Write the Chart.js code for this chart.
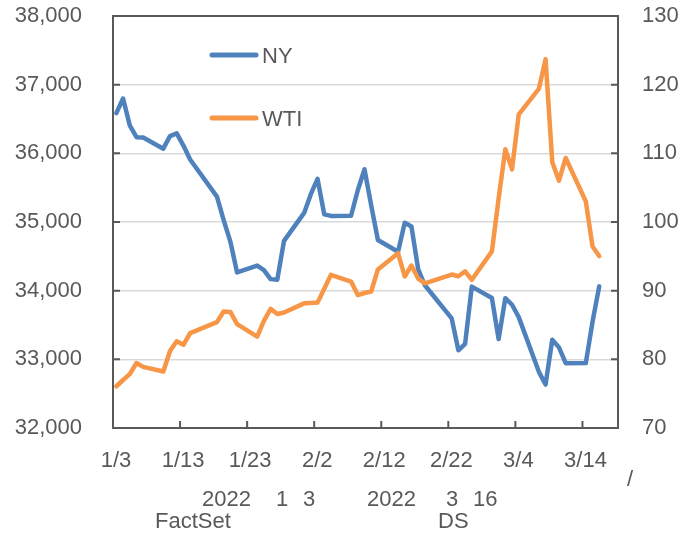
<!DOCTYPE html>
<html>
<head>
<meta charset="utf-8">
<script src="https://cdn.jsdelivr.net/npm/chart.js@4.4.0/dist/chart.umd.min.js"></script>
<style>
  body { margin: 0; background: #fff; }
  canvas { display: block; }
</style>
</head>
<body>
<canvas id="chart" width="682" height="538"></canvas>
<script>
// Trading days (2022) and closes
const dates = ['1/3', '1/4', '1/5', '1/6', '1/7', '1/10', '1/11', '1/12', '1/13', '1/14',
  '1/18', '1/19', '1/20', '1/21', '1/24', '1/25', '1/26', '1/27', '1/28', '1/31',
  '2/1', '2/2', '2/3', '2/4', '2/7', '2/8', '2/9', '2/10', '2/11', '2/14',
  '2/15', '2/16', '2/17', '2/18', '2/22', '2/23', '2/24', '2/25', '2/28', '3/1',
  '3/2', '3/3', '3/4', '3/7', '3/8', '3/9', '3/10', '3/11', '3/14', '3/15', '3/16'];

const nyValues = [36585, 36799, 36407, 36236, 36231, 36068, 36252, 36290, 36113, 35911,
  35369, 35029, 34715, 34265, 34365, 34298, 34168, 34160, 34725, 35132,
  35405, 35629, 35111, 35089, 35091, 35463, 35768, 35242, 34738, 34566,
  34989, 34935, 34313, 34079, 33597, 33132, 33224, 34059, 33893, 33295,
  33891, 33795, 33615, 32818, 32633, 33286, 33174, 32944, 32946, 33545, 34063];

const wtiValues = [76.08, 76.99, 77.85, 79.46, 78.90, 78.23, 81.22, 82.64, 82.12, 83.82,
  85.43, 86.96, 86.90, 85.14, 83.31, 85.60, 87.35, 86.61, 86.82, 88.15,
  88.20, 88.26, 90.27, 92.31, 91.32, 89.36, 89.66, 89.88, 93.10, 95.46,
  92.07, 93.66, 91.76, 91.07, 92.35, 92.10, 92.81, 91.59, 95.72, 103.41,
  110.60, 107.67, 115.68, 119.40, 123.70, 108.70, 106.02, 109.33, 103.01, 96.44, 95.04];

const xTickDays = [0, 10, 20, 30, 40, 50, 60, 70];
const leftTicks = [32000, 33000, 34000, 35000, 36000, 37000, 38000];
const rightTicks = [70, 80, 90, 100, 110, 120, 130];

const notes = [
  { text: '2022', x: 202, y: 500 }, { text: '1', x: 276, y: 500 }, { text: '3', x: 303, y: 500 },
  { text: '2022', x: 367, y: 500 }, { text: '3', x: 446, y: 500 }, { text: '16', x: 473, y: 500 },
  { text: 'FactSet', x: 155, y: 522 }, { text: 'DS', x: 438, y: 522 },
  { text: '/', x: 627, y: 480 }
];

const textColor = '#595959';
const axisColor = '#595959';
const font = { family: 'Liberation Sans, Arial, sans-serif', size: 22 };

const start = new Date(2022, 0, 3);
function dayOffset(label) {
  const [m, d] = label.split('/').map(Number);
  return Math.round((new Date(2022, m - 1, d) - start) / 86400000);
}
function dayLabel(off) {
  const dt = new Date(2022, 0, 3 + off);
  return (dt.getMonth() + 1) + '/' + dt.getDate();
}

const nyData = dates.map((d, i) => ({ x: dayOffset(d) + 0.5, y: nyValues[i] }));
const wtiData = dates.map((d, i) => ({ x: dayOffset(d) + 0.5, y: wtiValues[i] }));

function noPad(s) {
  s.paddingTop = 0; s.paddingBottom = 0; s.paddingLeft = 0; s.paddingRight = 0;
}

const framePlugin = {
  id: 'frame',
  beforeDatasetsDraw(chart) {
    const { ctx, chartArea: a, scales } = chart;
    ctx.save();
    ctx.strokeStyle = axisColor;
    ctx.lineWidth = 2;
    ctx.strokeRect(a.left, a.top, a.right - a.left, a.bottom - a.top);
    // inside tick marks
    ctx.beginPath();
    leftTicks.forEach(v => {
      const y = scales.y.getPixelForValue(v);
      ctx.moveTo(a.left, y); ctx.lineTo(a.left + 7, y);
    });
    rightTicks.forEach(v => {
      const y = scales.y1.getPixelForValue(v);
      ctx.moveTo(a.right, y); ctx.lineTo(a.right - 7, y);
    });
    xTickDays.forEach(v => {
      const x = scales.x.getPixelForValue(v);
      ctx.moveTo(x, a.bottom); ctx.lineTo(x, a.bottom - 7);
    });
    ctx.stroke();
    ctx.restore();
  },
  afterDraw(chart) {
    const { ctx, chartArea: a } = chart;
    ctx.save();
    ctx.font = font.size + 'px ' + font.family;
    ctx.fillStyle = textColor;
    ctx.textBaseline = 'middle';
    ctx.textAlign = 'left';
    // legend
    chart.data.datasets.forEach((ds, i) => {
      const y = a.top + 39 + i * 63;
      ctx.strokeStyle = ds.borderColor;
      ctx.lineWidth = 5;
      ctx.lineCap = 'round';
      ctx.beginPath();
      ctx.moveTo(212, y); ctx.lineTo(256, y);
      ctx.stroke();
      ctx.fillText(ds.label, 262, y + 2);
    });
    notes.forEach(n => ctx.fillText(n.text, n.x, n.y));
    ctx.restore();
  }
};

new Chart(document.getElementById('chart'), {
  type: 'line',
  data: {
    datasets: [
      { label: 'NY', data: nyData, yAxisID: 'y', borderColor: '#4f81bd', order: 1 },
      { label: 'WTI', data: wtiData, yAxisID: 'y1', borderColor: '#f79646', order: 0 }
    ]
  },
  options: {
    responsive: false,
    animation: false,
    devicePixelRatio: 1,
    layout: { padding: { top: 16, left: 0, right: 0, bottom: 0 } },
    elements: {
      point: { radius: 0 },
      line: { borderWidth: 4.5, tension: 0, borderJoinStyle: 'round', borderCapStyle: 'round' }
    },
    plugins: { legend: { display: false }, tooltip: { enabled: false } },
    scales: {
      x: {
        type: 'linear',
        min: 0,
        max: 75.3,
        afterBuildTicks: s => { s.ticks = xTickDays.map(v => ({ value: v })); },
        afterFit: s => { s.height = 110; noPad(s); },
        grid: { display: false, drawTicks: false },
        border: { display: false },
        ticks: { callback: v => dayLabel(v), color: textColor, font, padding: 20, maxRotation: 0, labelOffset: 3 }
      },
      y: {
        position: 'left',
        min: 32000,
        max: 38000,
        afterBuildTicks: s => { s.ticks = leftTicks.map(v => ({ value: v })); },
        afterFit: s => { s.width = 113; noPad(s); },
        grid: { color: '#d9d9d9', lineWidth: 1.5, drawTicks: false },
        border: { display: false },
        ticks: { callback: v => v.toLocaleString('en-US'), color: textColor, font, padding: 31 }
      },
      y1: {
        position: 'right',
        min: 70,
        max: 130,
        afterBuildTicks: s => { s.ticks = rightTicks.map(v => ({ value: v })); },
        afterFit: s => { s.width = 64; noPad(s); },
        grid: { drawOnChartArea: false, drawTicks: false },
        border: { display: false },
        ticks: { color: textColor, font, padding: 24 }
      }
    }
  },
  plugins: [framePlugin]
});
</script>
</body>
</html>
